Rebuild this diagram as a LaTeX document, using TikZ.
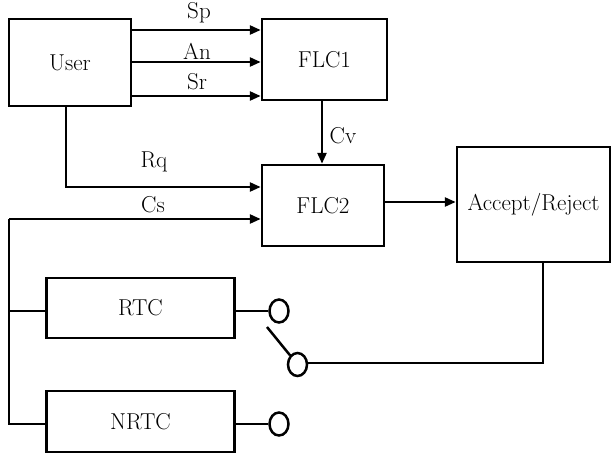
\documentclass[tikz,border=0pt]{standalone}
\usepackage{fontspec}
\usetikzlibrary{arrows.meta,shapes.geometric}
\begin{document}
\begin{tikzpicture}[x=1pt,y=-1pt,
  box/.style={draw,line width=2.5pt,fill=white,inner sep=0pt,font=\fontsize{23}{27}\selectfont},
  lbl/.style={inner sep=0pt,font=\fontsize{23}{27}\selectfont},
  term/.style={draw,ellipse,line width=2.5pt,minimum width=19pt,minimum height=23pt,inner sep=0pt},
  wire/.style={line width=2.5pt},
  arr/.style={wire,-{Triangle[length=11pt,width=9pt]}}]
\useasboundingbox (0,0) rectangle (613,456);
% boxes
\node[box,minimum width=122pt,minimum height=87pt] (user) at (70,62.5) {User};
\node[box,minimum width=125pt,minimum height=81pt] (flc1) at (324.5,59.5) {FLC1};
\node[box,minimum width=122pt,minimum height=81pt] (flc2) at (323,205.5) {FLC2};
\node[box,minimum width=153pt,minimum height=115pt] (acc) at (533.5,204.5) {Accept/Reject};
\node[box,minimum width=188pt,minimum height=60pt] (rtc) at (140.5,308) {RTC};
\node[box,minimum width=188pt,minimum height=61pt] (nrtc) at (140.5,421.5) {NRTC};
% terminals
\node[term] (t1) at (279,311) {};
\node[term] (t2) at (279,424) {};
\node[term] (t3) at (297.5,364.5) {};
% labels
\node[lbl] (lsp) at (199,13) {Sp};
\node[lbl] (lan) at (197,51) {An};
\node[lbl] (lsr) at (197,82) {Sr};
\node[lbl] (lcv) at (343,136) {Cv};
\node[lbl] (lrq) at (154,162) {Rq};
\node[lbl] (lcs) at (153,205) {Cs};
% user -> flc1
\draw[arr] (user.east |- 0,30) -- (flc1.west |- 0,30);
\draw[arr] (user.east |- 0,62) -- (flc1.west |- 0,62);
\draw[arr] (user.east |- 0,96) -- (flc1.west |- 0,96);
% flc1 -> flc2
\draw[arr] (flc1.south -| 322,0) -- (flc2.north -| 322,0);
% user -> flc2
\coordinate (uq) at (66,187);
\draw[arr] (user.south -| uq) -- (uq) -- (uq -| flc2.west);
% bus
\coordinate (bt) at (9,219);
\coordinate (bb) at (9,424);
\draw[arr] (bt) -- (bt -| flc2.west);
\draw[wire] (bt) -- (bb) -- (bb -| nrtc.west);
\draw[wire] (bt |- t1) -- (rtc.west |- t1);
% flc2 -> accept
\draw[arr] (flc2.east |- 0,202) -- (acc.west |- 0,202);
% outputs
\draw[wire] (rtc.east |- t1) -- (t1.west);
\draw[wire] (nrtc.east |- t2) -- (t2.west);
% switch
\coordinate (sw) at (267,327);
\draw[wire] (sw) -- (t3);
\coordinate (ad) at (543,363);
\draw[wire] (acc.south -| ad) -- (ad) -- (t3.east |- ad);
\end{tikzpicture}
\end{document}
